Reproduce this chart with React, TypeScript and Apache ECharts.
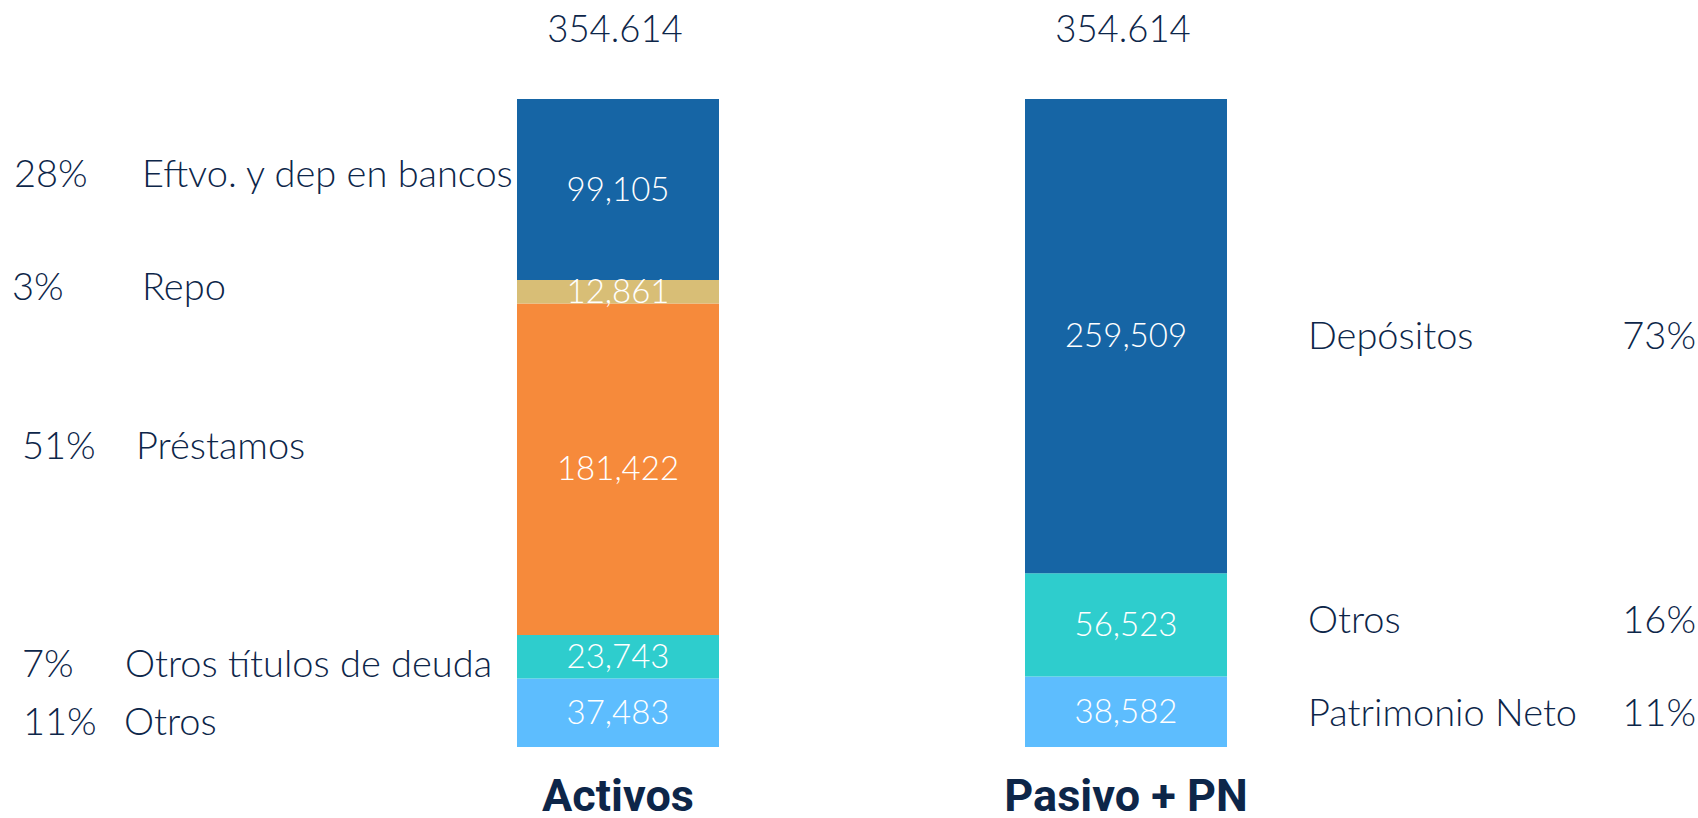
import React, { useEffect, useRef } from 'react';
import * as echarts from 'echarts';

// ---- data (top to bottom within each column) ----
const categories = ['Activos', 'Pasivo + PN'];

const activosNames = ['Eftvo. y dep en bancos', 'Repo', 'Préstamos', 'Otros títulos de deuda', 'Otros'];
const activosValues = [99105, 12861, 181422, 23743, 37483];
const activosPct = ['28%', '3%', '51%', '7%', '11%'];

const pasivoNames = ['Depósitos', 'Otros', 'Patrimonio Neto'];
const pasivoValues = [259509, 56523, 38582];
const pasivoPct = ['73%', '16%', '11%'];

// ---- styles / layout ----
const activosColors = ['#1665A5', '#D8BE76', '#F68A3B', '#2ECDCD', '#5DBDFE'];
const pasivoColors = ['#1665A5', '#2ECDCD', '#5DBDFE'];
const NAVY = '#0d2649';
const FONT = 'Lato, Roboto, "Noto Sans", sans-serif';
const TITLE_FONT = 'Roboto, "Noto Sans", sans-serif';

const activosNameX = [142, 142, 136, 125, 124];
const activosPctX = [14, 12, 22, 22, 23];
const activosDy = [-18, -7, -25, 5, 7];
const pasivoNameX = 1308;
const pasivoPctRightX = 1696;
const pasivoDy = [-2, -7, -1];

const sum = (a: number[]) => a.reduce((s, v) => s + v, 0);
const fmtComma = (v: number) => v.toLocaleString('en-US');
const fmtDot = (v: number) => v.toLocaleString('en-US').replace(/,/g, '.');

function midpoints(values: number[]) {
  // values listed top to bottom; returns stacked midpoints
  return values.map((v, i) => sum(values.slice(i + 1)) + v / 2);
}

export default function App() {
  const ref = useRef<HTMLDivElement>(null);
  useEffect(() => {
    const chart = echarts.init(ref.current!, null, { renderer: 'svg' });
    const totalA = sum(activosValues);
    const totalP = sum(pasivoValues);

    const valueLabel = {
      show: true,
      position: 'inside',
      offset: [0, -2],
      color: '#ffffff',
      fontSize: 33,
      fontFamily: FONT,
      fontWeight: 300,
      formatter: (p: any) => fmtComma(p.value),
    };

    const barSeries: any[] = [];
    for (let i = activosValues.length - 1; i >= 0; i--) {
      barSeries.push({
        type: 'bar',
        name: 'A-' + activosNames[i],
        stack: 'total',
        barWidth: 202,
        data: [activosValues[i], '-'],
        itemStyle: { color: activosColors[i] },
        label: valueLabel,
      });
    }
    for (let i = pasivoValues.length - 1; i >= 0; i--) {
      barSeries.push({
        type: 'bar',
        name: 'P-' + pasivoNames[i],
        stack: 'total',
        barWidth: 202,
        data: ['-', pasivoValues[i]],
        itemStyle: { color: pasivoColors[i] },
        label: valueLabel,
      });
    }

    const aMid = midpoints(activosValues);
    const pMid = midpoints(pasivoValues);

    const sideText = (text: string, x: number, y: number, align: string, size: number) => ({
      type: 'text',
      x,
      y,
      silent: true,
      style: {
        text,
        fill: NAVY,
        fontSize: size,
        fontFamily: FONT,
        fontWeight: 300,
        align,
        verticalAlign: 'middle',
        textAlign: align,
        textVerticalAlign: 'middle',
      },
    });

    const activosSide = {
      type: 'custom',
      clip: false,
      silent: true,
      z: 5,
      data: aMid.map((m) => [0, m]),
      renderItem: (params: any, api: any) => {
        const i = params.dataIndex;
        const pt = api.coord([api.value(0), api.value(1)]);
        const y = pt[1] + activosDy[i];
        return {
          type: 'group',
          children: [
            sideText(activosPct[i], activosPctX[i], y, 'left', 38),
            sideText(activosNames[i], activosNameX[i], y, 'left', 38),
          ],
        };
      },
    };

    const pasivoSide = {
      type: 'custom',
      clip: false,
      silent: true,
      z: 5,
      data: pMid.map((m) => [1, m]),
      renderItem: (params: any, api: any) => {
        const i = params.dataIndex;
        const pt = api.coord([api.value(0), api.value(1)]);
        const y = pt[1] + pasivoDy[i];
        return {
          type: 'group',
          children: [
            sideText(pasivoNames[i], pasivoNameX, y, 'left', 38),
            sideText(pasivoPct[i], pasivoPctRightX, y, 'right', 38),
          ],
        };
      },
    };

    const totals = [totalA, totalP];
    const totalSeries = {
      type: 'custom',
      clip: false,
      silent: true,
      z: 5,
      data: totals.map((t, i) => [i, t]),
      renderItem: (params: any, api: any) => {
        const i = params.dataIndex;
        const pt = api.coord([api.value(0), api.value(1)]);
        return sideText(fmtDot(totals[i]), pt[0] - 3, pt[1] - 71, 'center', 36.5);
      },
    };

    chart.setOption({
      animation: false,
      backgroundColor: '#ffffff',
      grid: { left: 364, right: 318, top: 99, bottom: 63, containLabel: false },
      xAxis: {
        type: 'category',
        data: categories,
        axisLine: { show: false },
        axisTick: { show: false },
        splitLine: { show: false },
        axisLabel: {
          margin: 26,
          fontSize: 45,
          fontWeight: 'bold',
          fontFamily: TITLE_FONT,
          color: NAVY,
        },
      },
      yAxis: {
        type: 'value',
        show: false,
        min: 0,
        max: Math.max(totalA, totalP),
        splitLine: { show: false },
      },
      series: [...barSeries, activosSide, pasivoSide, totalSeries],
    });
    return () => chart.dispose();
  }, []);
  return (
    <div
      ref={ref}
      style={{ position: 'fixed', left: 0, top: 0, width: 1698, height: 818, background: '#fff' }}
    />
  );
}
